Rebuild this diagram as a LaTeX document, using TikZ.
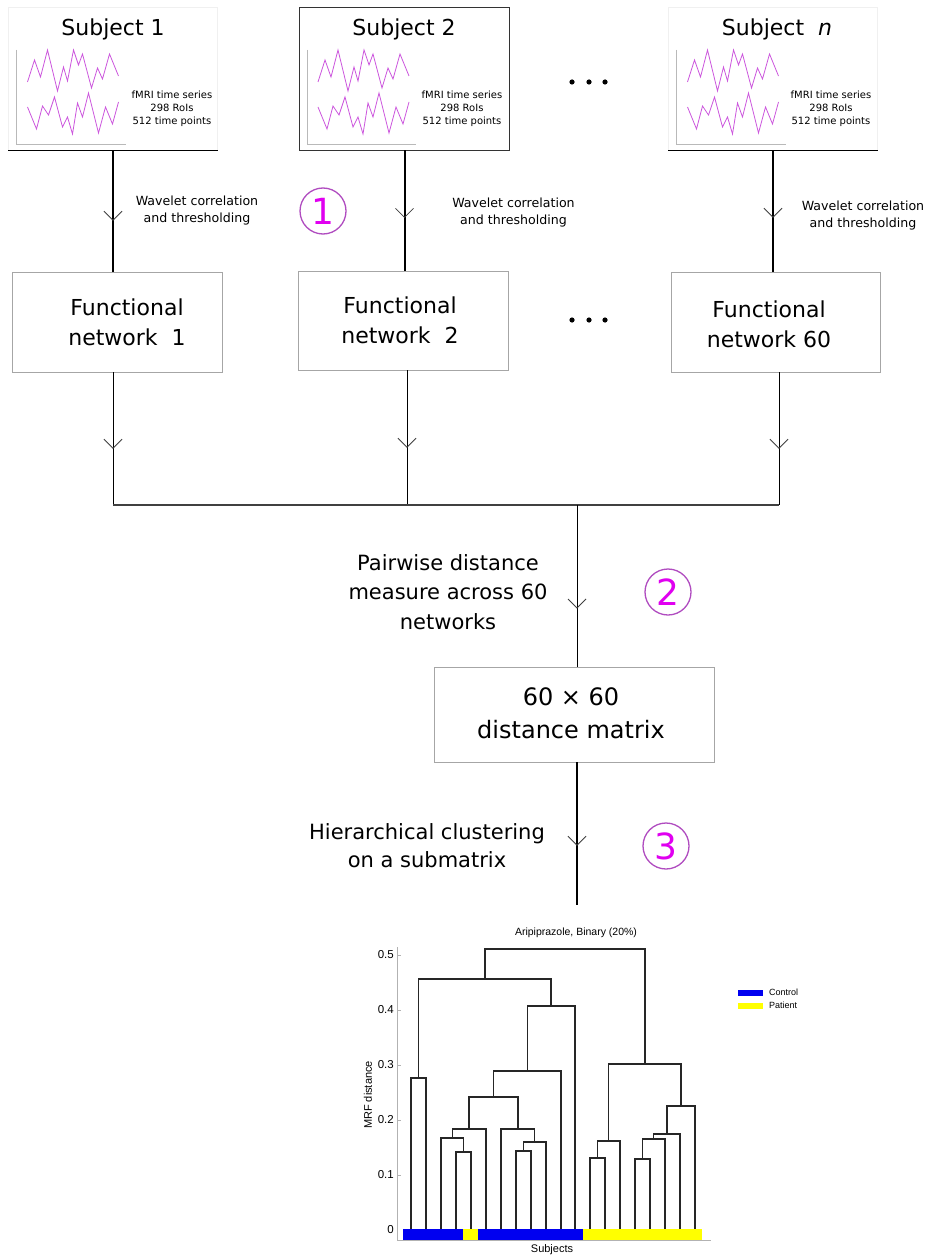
\documentclass[tikz,border=0pt]{standalone}
\usepackage{fontspec}
\setmainfont{DejaVu Sans}
\newfontfamily\arialf{Liberation Sans}
\usetikzlibrary{decorations.markings}
\definecolor{wave}{HTML}{CC55DD}
\definecolor{circ}{HTML}{B04CC0}
\definecolor{numc}{HTML}{E000F0}
\definecolor{cblue}{HTML}{0000F0}
\definecolor{cyellow}{HTML}{FFFF00}
\newcommand\dgm[5]{\draw[dendro] (#1,#2) -- (#1,#5) -- (#3,#5) -- (#3,#4);}
\begin{document}
\begin{tikzpicture}[x=1pt,y=-1pt,
  big/.style={font=\fontsize{22}{30}\selectfont, align=center, inner sep=0},
  small/.style={font=\fontsize{10}{13}\selectfont, align=center, inner sep=0},
  lab/.style={font=\fontsize{12.6}{17}\selectfont, align=center, inner sep=0},
  mid/.style={font=\fontsize{21}{29.5}\selectfont, align=center, inner sep=0},
  fnbox/.style={draw=gray!70, minimum width=210pt, minimum height=100pt, inner sep=0},
  thickline/.style={line width=2pt, black},
  thinline/.style={line width=1pt, black},
  vmark/.style={postaction={decorate,decoration={markings,
      mark=at position #1 with {\draw[line width=0.8pt,gray!50!black] (-9pt,9pt)--(0pt,0pt)--(-9pt,-9pt);}}}},
  circnum/.style={circle, draw=circ, line width=1.3pt, minimum size=46pt, inner sep=0,
      text=numc, font=\fontsize{36}{36}\selectfont},
  dendro/.style={line width=1.4pt, black!85, line join=miter},
  ax/.style={font=\arialf\fontsize{11.5}{12}\selectfont, inner sep=0},
  tsplot/.pic={
    \draw[gray!55, line width=0.8pt] (0,-94) -- (0,0) -- (109,0);
    \draw[wave, line width=0.8pt] (11,-62) -- (18,-84) -- (24,-67) -- (31,-94) -- (41,-53) -- (47,-77) -- (51,-63) -- (57,-94) -- (62,-79) -- (66,-90) -- (75,-56) -- (81,-76) -- (86,-65) -- (93,-90) -- (102,-68);
    \draw[wave, line width=0.8pt] (11,-37) -- (20,-15) -- (26,-38) -- (32,-29) -- (38,-47) -- (46,-17) -- (51,-27) -- (56,-10) -- (61,-41) -- (66,-27) -- (72,-51) -- (82,-11) -- (89,-37) -- (96,-20) -- (102,-42);
  }
]
\useasboundingbox[fill=white] (0,0) rectangle (930,1257);

% ---- subject boxes
\node[draw=gray!12, minimum width=209pt, minimum height=143pt, inner sep=0] (s1) at (113,78.5) {};
\draw[black, line width=0.9pt] (s1.south west) -- (s1.south east);
\node[draw=black!80, line width=0.8pt, minimum width=210pt, minimum height=143pt, inner sep=0] (s2) at (404.5,78.5) {};
\node[draw=gray!12, minimum width=209pt, minimum height=143pt, inner sep=0] (sn) at (773,78.5) {};
\draw[black, line width=0.9pt] (sn.south west) -- (sn.south east);

\node[big, anchor=base] (t1) at (113,36) {Subject 1};
\node[big, anchor=base] (t2) at (404,36) {Subject 2};
\node[big, anchor=base] (tn) at (777,36) {Subject\ \ \textit{n}};

\pic at (16.5,144) {tsplot};
\pic at (307,144) {tsplot};
\pic at (676.5,144) {tsplot};

\node[small] (i1) at (172,109) {fMRI time series\\298 RoIs\\512 time points};
\node[small] (i2) at (462,109) {fMRI time series\\298 RoIs\\512 time points};
\node[small] (in) at (831,109) {fMRI time series\\298 RoIs\\512 time points};

\foreach \x/\nm in {572/da,589/db,605/dc} \node[circle, fill=black, inner sep=0, minimum size=5.2pt] (\nm) at (\x,82) {};

% ---- functional networks
\node[fnbox] (f1) at (117,322) {};
\node[fnbox, minimum height=99pt] (f2) at (403,320.5) {};
\node[fnbox, minimum width=209pt] (f60) at (775.5,322) {};
\node[big] (ft1) at (127,322.5) {Functional\\network\ \ 1};
\node[big] (ft2) at (400,320.5) {Functional\\network\ \ 2};
\node[big] (ft60) at (769,324) {Functional\\network 60};
\foreach \x/\nm in {572/ea,589/eb,605/ec} \node[circle, fill=black, inner sep=0, minimum size=5.2pt] (\nm) at (\x,320) {};

\draw[thickline, vmark=70pt] (s1.south) -- (s1.south |- f1.north);
\draw[thickline, vmark=67pt] (s2.south) -- (s2.south |- f2.north);
\draw[thickline, vmark=67pt] (sn.south) -- (sn.south |- f60.north);

\node[lab] (w1) at (197,210.5) {Wavelet correlation\\and thresholding};
\node[lab] (w2) at (513.5,212.5) {Wavelet correlation\\and thresholding};
\node[lab] (wn) at (863,215.5) {Wavelet correlation\\and thresholding};

\node[circnum] (c1) at (323,211) {1};

% ---- bus
\coordinate (j1) at (113,505);
\coordinate (j2) at (407,505);
\coordinate (jn) at (779,505);
\coordinate (jm) at (577,505);
\draw[thinline, vmark=76pt] (f1.south -| j1) -- (j1);
\draw[thinline, vmark=77pt] (f2.south -| j2) -- (j2);
\draw[thinline, vmark=76pt] (f60.south -| jn) -- (jn);
\draw[gray!50!black, line width=1.2pt] (j1) -- (jn);

% ---- distance matrix
\node[draw=gray!70, minimum width=280pt, minimum height=95pt, inner sep=0] (dm) at (574,714.5) {};
\node[font=\fontsize{24}{33}\selectfont, align=center, inner sep=0] (dmt) at (571,713.5) {60 × 60\\distance matrix};
\draw[thinline, vmark=103pt] (jm) -- (jm |- dm.north);
\node[mid] (pw) at (448,592) {Pairwise distance\\measure across 60\\networks};
\node[circnum] (c2) at (668,592) {2};

\coordinate (ce) at (577,905);
\draw[thickline, vmark=83pt] (dm.south -| ce) -- (ce);
\node[font=\fontsize{21}{28}\selectfont, align=center, inner sep=0] (hc) at (427,845.5) {Hierarchical clustering\\on a submatrix};
\node[circnum] (c3) at (666,846) {3};

% ---- dendrogram
\node[font=\arialf\fontsize{10.5}{12}\selectfont, inner sep=0] (ttl) at (576,933) {Aripiprazole, Binary (20\%)};
\draw[gray!60, line width=1pt] (397,947) -- (397,1240) -- (711,1240);
\foreach \v/\y in {0.5/955,0.4/1010,0.3/1065,0.2/1120,0.1/1175} {
  \draw[gray!60, line width=0.8pt] (397,\y) -- (401,\y);
  \node[ax, anchor=east] (tk\v) at (394,\y) {\v};
}
\node[ax, anchor=east] (tk0) at (394,1230) {0};
\node[ax, rotate=90, font=\arialf\fontsize{11}{12}\selectfont] (yl) at (368,1095) {MRF distance};
\node[ax, font=\arialf\fontsize{11}{12}\selectfont] (xl) at (552,1250) {Subjects};

\fill[cblue] (403,1229) rectangle (463,1240);
\fill[cyellow] (463,1229) rectangle (478,1240);
\fill[cblue] (478,1229) rectangle (583,1240);
\fill[cyellow] (583,1229) rectangle (702,1240);

\def\L{1229}
\dgm{411}{\L}{426}{\L}{1078}
\dgm{456}{\L}{471}{\L}{1152}
\dgm{441}{\L}{463.5}{1152}{1138}
\dgm{452.25}{1138}{486}{\L}{1129}
\dgm{516}{\L}{531}{\L}{1151}
\dgm{523.5}{1151}{546}{\L}{1142}
\dgm{501}{\L}{534.75}{1142}{1129}
\dgm{469.1}{1129}{517.9}{1129}{1097}
\dgm{493.5}{1097}{561}{\L}{1071}
\dgm{527.25}{1071}{575}{\L}{1006}
\dgm{418.5}{1078}{551.1}{1006}{979}
\dgm{590}{\L}{605}{\L}{1158}
\dgm{597.5}{1158}{620}{\L}{1141}
\dgm{635}{\L}{650}{\L}{1159}
\dgm{642.5}{1159}{665}{\L}{1139}
\dgm{653.75}{1139}{680}{\L}{1134}
\dgm{666.9}{1134}{695}{\L}{1106}
\dgm{608.75}{1141}{680.9}{1106}{1064}
\dgm{484.8}{979}{644.8}{1064}{949}

% legend
\fill[cblue] (738,990) rectangle (763,996);
\fill[cyellow] (738,1003) rectangle (763,1009);
\node[font=\arialf\fontsize{9}{10}\selectfont, anchor=west, inner sep=0] (lc) at (769,992) {Control};
\node[font=\arialf\fontsize{9}{10}\selectfont, anchor=west, inner sep=0] (lp) at (769,1005) {Patient};
\end{tikzpicture}
\end{document}
